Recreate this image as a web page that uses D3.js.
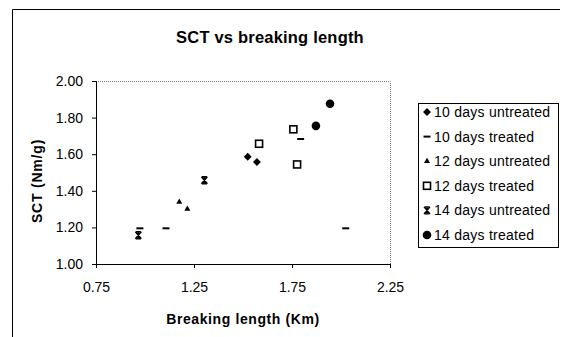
<!DOCTYPE html>
<html><head><meta charset="utf-8">
<script src="https://cdn.jsdelivr.net/npm/d3@7"></script>
<style>body{margin:0;background:#fff;}svg{display:block;font-family:"Liberation Sans",Arial,sans-serif;}</style>
</head><body><div id="chart"></div>
<script>
const seriesNames = ["10 days untreated","10 days treated","12 days untreated","12 days treated","14 days untreated","14 days treated"];
const markerTypes = ["diamond","dash","triangle","square","star","circle"];
const d10u_x = [1.524, 1.571], d10u_y = [1.586, 1.557];
const d10t_x = [0.974, 1.107, 1.794, 2.024], d10t_y = [1.195, 1.195, 1.683, 1.195];
const d12u_x = [1.175, 1.216], d12u_y = [1.339, 1.301];
const d12t_x = [1.582, 1.757, 1.776], d12t_y = [1.657, 1.736, 1.544];
const d14u_x = [0.966, 1.303], d14u_y = [1.157, 1.458];
const d14t_x = [1.872, 1.944], d14t_y = [1.755, 1.876];
const xTicks = [0.75, 1.25, 1.75, 2.25];
const yTicks = [1.00, 1.20, 1.40, 1.60, 1.80, 2.00];
const seriesX = [d10u_x, d10t_x, d12u_x, d12t_x, d14u_x, d14t_x];
const seriesY = [d10u_y, d10t_y, d12u_y, d12t_y, d14u_y, d14t_y];

const W = 563, H = 337;
const svg = d3.select("#chart").append("svg").attr("width", W).attr("height", H);
const x = d3.scaleLinear().domain([0.75, 2.25]).range([96, 390]);
const y = d3.scaleLinear().domain([1, 2]).range([264, 81]);

// outer chart border (top + left visible)
svg.append("line").attr("x1",12.5).attr("x2",560).attr("y1",9.5).attr("y2",9.5).attr("stroke","#000").attr("stroke-width",1);
svg.append("line").attr("x1",12.5).attr("x2",12.5).attr("y1",9.5).attr("y2",H).attr("stroke","#000").attr("stroke-width",1);

// title
svg.append("text").attr("x",270).attr("y",43).attr("text-anchor","middle")
  .attr("font-size",16.5).attr("font-weight","bold").attr("letter-spacing",0.2).text("SCT vs breaking length");

// plot area border dotted top & right
svg.append("path").attr("d",`M${x(0.75)},${y(2)+0.5}H${x(2.25)+0.5}V${y(1)}`)
  .attr("fill","none").attr("stroke","#777").attr("stroke-dasharray","1,1").attr("stroke-width",1);

// axes
const xAxis = d3.axisBottom(x).tickValues(xTicks).tickFormat(d3.format(".2f")).tickSizeOuter(0).tickSize(4).tickPadding(14);
const yAxis = d3.axisLeft(y).tickValues(yTicks).tickFormat(d3.format(".2f")).tickSizeOuter(0).tickSize(4).tickPadding(9);
const gx = svg.append("g").attr("transform",`translate(0,${y(1)})`).call(xAxis);
const gy = svg.append("g").attr("transform",`translate(${x(0.75)},0)`).call(yAxis);
[gx, gy].forEach(g => {
  g.selectAll("text").attr("font-size",14).attr("fill","#000").attr("font-family","Liberation Sans, Arial, sans-serif");
  g.selectAll("line,path").attr("stroke","#000");
});

// axis titles
svg.append("text").attr("x",243).attr("y",324).attr("text-anchor","middle")
  .attr("font-size",14).attr("font-weight","bold").attr("letter-spacing",0.6).text("Breaking length (Km)");
svg.append("text").attr("transform","translate(42,181) rotate(-90)").attr("text-anchor","middle")
  .attr("font-size",14).attr("font-weight","bold").attr("letter-spacing",0.8).text("SCT (Nm/g)");

function drawMarker(g, type){
  if(type==="diamond") g.append("path").attr("d",d3.symbol(d3.symbolDiamond2,40)()).attr("fill","#000");
  else if(type==="dash") g.append("path").attr("d","M-3.5,0H3.5").attr("stroke","#000").attr("stroke-width",2);
  else if(type==="triangle") g.append("path").attr("d",d3.symbol(d3.symbolTriangle,16)()).attr("fill","#000");
  else if(type==="square") g.append("rect").attr("x",-3.5).attr("y",-3.5).attr("width",7).attr("height",7).attr("fill","#fff").attr("stroke","#000").attr("stroke-width",1.6);
  else if(type==="star") g.append("path").attr("d","M-3,-3.5L3,3.5M3,-3.5L-3,3.5M-2.5,-3.5H2.5M-2.5,3.5H2.5M0,-3.5V3.5").attr("stroke","#000").attr("stroke-width",1.4).attr("fill","none");
  else if(type==="circle") g.append("circle").attr("r",4.3).attr("fill","#000");
}

// points
seriesNames.forEach((name,i)=>{
  seriesX[i].forEach((xv,j)=>{
    const g = svg.append("g").attr("transform",`translate(${x(xv)},${y(seriesY[i][j])})`);
    drawMarker(g, markerTypes[i]);
  });
});

// legend
svg.append("rect").attr("x",418.5).attr("y",103.5).attr("width",140).attr("height",144)
  .attr("fill","#fff").attr("stroke","#000").attr("stroke-width",1);
seriesNames.forEach((name,i)=>{
  const cy = 112 + i*24.6;
  const g = svg.append("g").attr("transform",`translate(427,${cy})`);
  drawMarker(g, markerTypes[i]);
  svg.append("text").attr("x",434).attr("y",cy).attr("dy","0.36em").attr("font-size",14).attr("letter-spacing",0.25).text(name);
});
</script></body></html>
